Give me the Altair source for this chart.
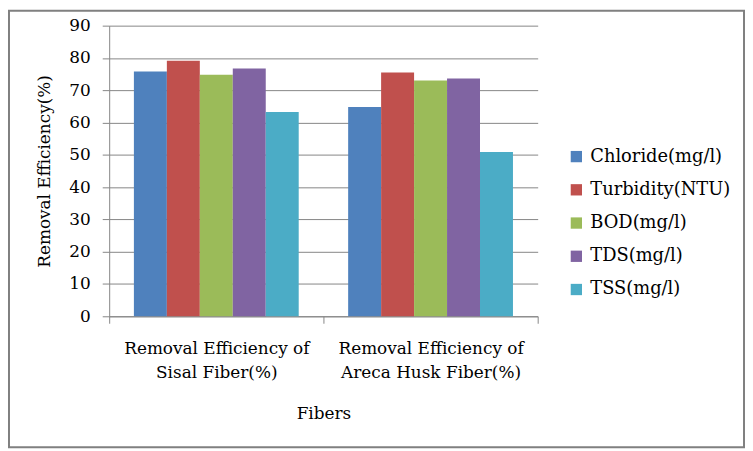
import altair as alt
import pandas as pd

categories = ["Removal Efficiency of\nSisal Fiber(%)", "Removal Efficiency of\nAreca Husk Fiber(%)"]
series = ["Chloride(mg/l)", "Turbidity(NTU)", "BOD(mg/l)", "TDS(mg/l)", "TSS(mg/l)"]
sisal = [75.8, 79.1, 74.8, 76.7, 63.3]
areca = [64.8, 75.5, 73.0, 73.6, 50.9]
colors = ["#4F81BD", "#C0504D", "#9BBB59", "#8064A2", "#4BACC6"]

rows = []
for cat, vals in zip(categories, [sisal, areca]):
    for s, v in zip(series, vals):
        rows.append({"Fiber": cat, "Parameter": s, "Value": v})
df = pd.DataFrame(rows)

FONT = "DejaVu Serif"
W, H = 432, 293
PL, PT, PR, PB = 102, 16, 209, 133

bars = alt.Chart(df).mark_bar().encode(
    x=alt.X("Fiber:N", sort=categories,
            scale=alt.Scale(paddingInner=0, paddingOuter=0),
            axis=alt.Axis(title="Fibers", labelAngle=0, tickBand="extent",
                          labelExpr="datum.value ? split(datum.value, '\\n') : ''",
                          labelLineHeight=24, labelPadding=18, tickSize=7,
                          labelLimit=0, titlePadding=25, grid=False)),
    xOffset=alt.XOffset("Parameter:N", sort=series,
                        scale=alt.Scale(paddingInner=0, paddingOuter=0.75)),
    y=alt.Y("Value:Q", scale=alt.Scale(domain=[0, 90], nice=False),
            axis=alt.Axis(title="Removal Efficiency(%)", values=list(range(0, 100, 10)),
                          tickSize=7, labelPadding=12, titlePadding=16, grid=True)),
    color=alt.Color("Parameter:N", sort=series,
                    scale=alt.Scale(domain=series, range=colors),
                    legend=alt.Legend(title=None, orient="none", legendX=462, legendY=123,
                                      symbolType="square", symbolSize=130,
                                      symbolStrokeWidth=0, labelFontSize=18,
                                      labelOffset=5, rowPadding=15.5, padding=0,
                                      labelLimit=0,
                                      labelFont=FONT, labelColor="#000000")),
)

border = alt.Chart(alt.Data(values=[{}])).mark_rect(
    fill=None, stroke="#808080", strokeWidth=2
).encode(
    x=alt.value(-PL + 1), x2=alt.value(W + PR - 1),
    y=alt.value(-PT + 1), y2=alt.value(H + PB - 1),
)

chart = alt.layer(bars, border).properties(
    width=W, height=H,
    autosize=alt.AutoSizeParams(type="none"),
    padding={"left": PL, "top": PT, "right": PR, "bottom": PB},
    background="white",
).configure_view(stroke=None).configure_axis(
    labelFont=FONT, titleFont=FONT, labelFontSize=17, titleFontSize=17,
    titleFontWeight="normal", labelColor="#000000", titleColor="#000000",
    domainColor="#868686", tickColor="#868686", gridColor="#868686",
    domainWidth=1, tickWidth=1, gridWidth=1,
)

chart.save("out.html", embed_options={"renderer": "svg", "actions": False})
